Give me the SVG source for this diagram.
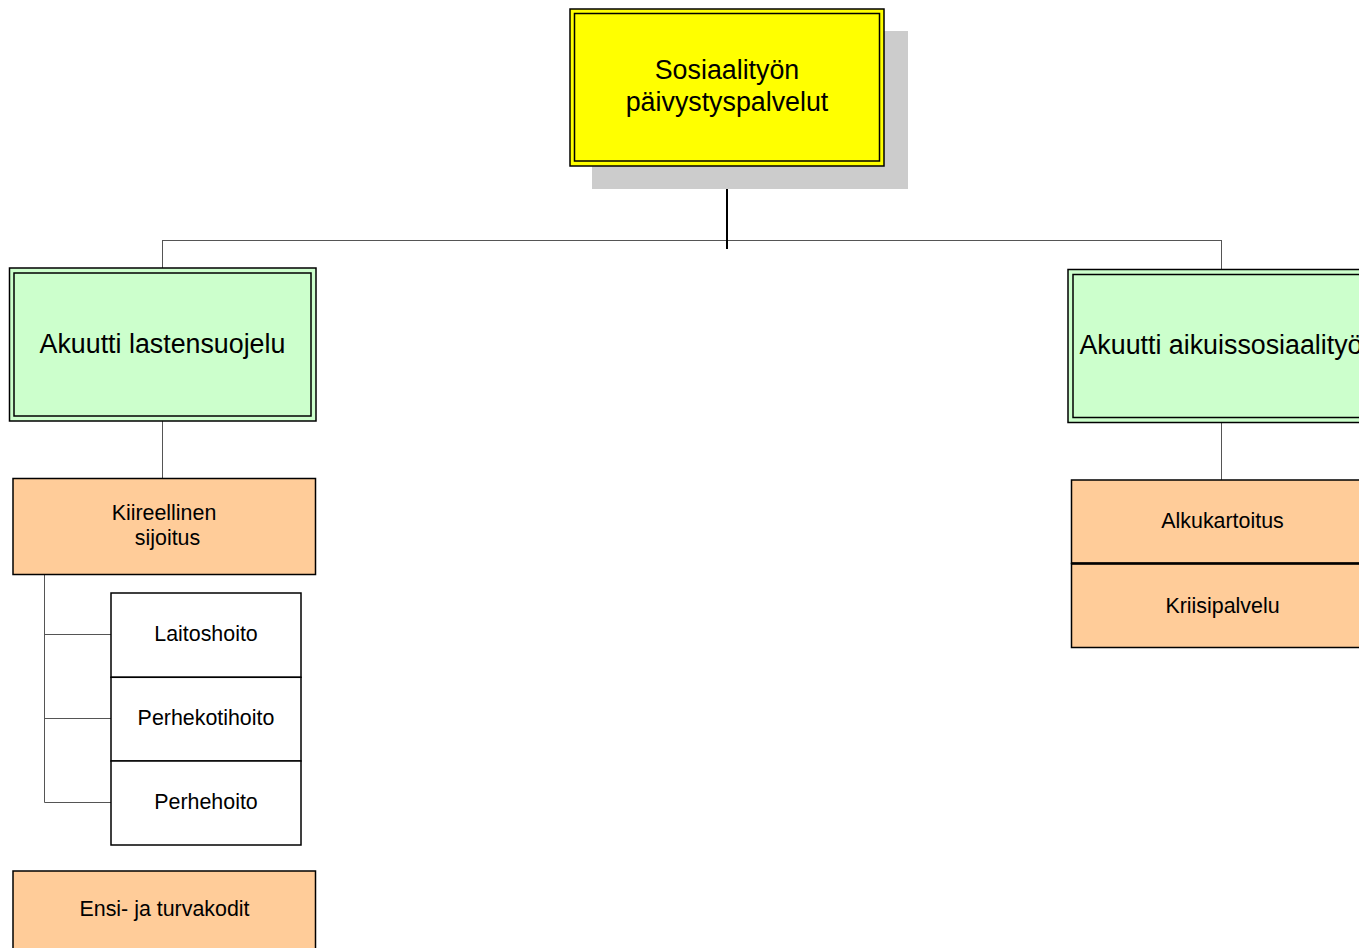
<svg xmlns="http://www.w3.org/2000/svg" width="1359" height="948" viewBox="0 0 1359 948">
<style>
text{font-family:"Liberation Sans",Arial,sans-serif;fill:#000;text-anchor:middle}
.big{font-size:26.8px}
.sm{font-size:21.4px}
.conn{stroke:#555;stroke-width:1;fill:none}
.ob{stroke:#000;stroke-width:1.5}
.org{fill:#FFCC99;stroke:#000;stroke-width:1.5}
.wh{fill:#fff;stroke:#000;stroke-width:1.5}
.grn{fill:#CCFFCC;stroke:#000;stroke-width:1.5}
.yel{fill:#FFFF00;stroke:#000;stroke-width:1.5}
</style>
<rect width="1359" height="948" fill="#fff"/>
<g id="connectors">
<line x1="162.5" y1="240.5" x2="1221.5" y2="240.5" class="conn"/>
<line x1="162.5" y1="240" x2="162.5" y2="268" class="conn"/>
<line x1="1221.5" y1="240" x2="1221.5" y2="270" class="conn"/>
<line x1="727" y1="166" x2="727" y2="249" stroke="#000" stroke-width="2"/>
<line x1="162.5" y1="421" x2="162.5" y2="478" class="conn"/>
<line x1="1221.5" y1="423" x2="1221.5" y2="480" class="conn"/>
<polyline points="44.5,575 44.5,802.5 111,802.5" class="conn"/>
<line x1="44.5" y1="634.5" x2="111" y2="634.5" class="conn"/>
<line x1="44.5" y1="718.5" x2="111" y2="718.5" class="conn"/>
</g>
<g id="root">
<rect x="592" y="31" width="316" height="158" fill="#CCCCCC"/>
<rect x="570" y="9" width="314" height="157" class="yel"/>
<rect x="574.5" y="13.5" width="305" height="147.5" fill="none" class="ob"/>
<text class="big" x="727" y="79">Sosiaalityön</text>
<text class="big" x="727" y="111">päivystyspalvelut</text>
</g>
<g id="lastensuojelu">
<rect x="9.5" y="268" width="306.5" height="153" class="grn"/>
<rect x="14" y="273" width="297" height="143" fill="none" class="ob"/>
<text class="big" x="162.5" y="353">Akuutti lastensuojelu</text>
</g>
<g id="aikuissosiaalityo">
<rect x="1068" y="269.5" width="310" height="153" class="grn"/>
<rect x="1073" y="274.5" width="300" height="143" fill="none" class="ob"/>
<text class="big" x="1221" y="354">Akuutti aikuissosiaalityö</text>
</g>
<g id="kiireellinen">
<rect x="13" y="478.5" width="302.5" height="96" class="org"/>
<text class="sm" x="164" y="520">Kiireellinen</text>
<text class="sm" x="167.5" y="545">sijoitus</text>
</g>
<g id="laitoshoito">
<rect x="111" y="593" width="190" height="84.3" class="wh"/>
<text class="sm" x="206" y="641">Laitoshoito</text>
</g>
<g id="perhekotihoito">
<rect x="111" y="677.3" width="190" height="83.7" class="wh"/>
<text class="sm" x="206" y="725">Perhekotihoito</text>
</g>
<g id="perhehoito">
<rect x="111" y="761" width="190" height="84" class="wh"/>
<text class="sm" x="206" y="809">Perhehoito</text>
</g>
<g id="ensikodit">
<rect x="13" y="871" width="302.5" height="90" class="org"/>
<text class="sm" x="164.5" y="916">Ensi- ja turvakodit</text>
</g>
<g id="alkukartoitus">
<rect x="1071.5" y="480" width="303" height="83.5" class="org"/>
<text class="sm" x="1222.5" y="528">Alkukartoitus</text>
</g>
<g id="kriisipalvelu">
<rect x="1071.5" y="563.5" width="303" height="84" class="org"/>
<line x1="1071.5" y1="563.5" x2="1359" y2="563.5" stroke="#000" stroke-width="2.5"/>
<text class="sm" x="1222.5" y="613">Kriisipalvelu</text>
</g>
</svg>
